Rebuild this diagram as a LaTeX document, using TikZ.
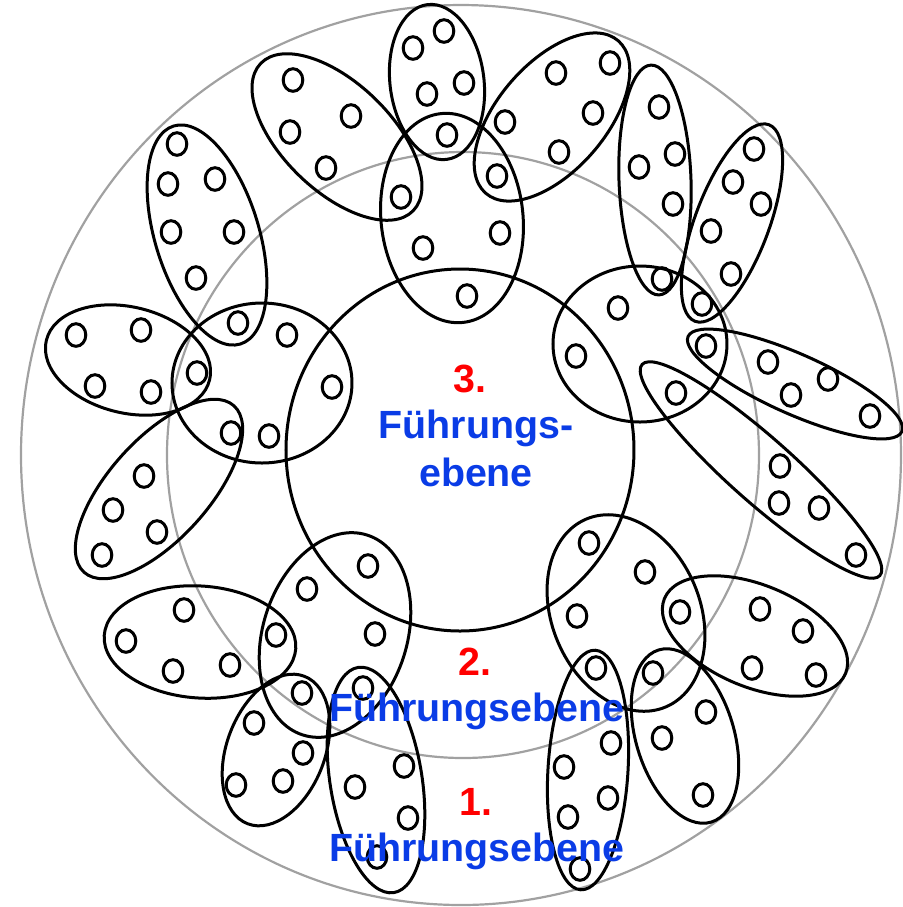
\documentclass[tikz,border=0pt]{standalone}
\usepackage{fontspec}
\setmainfont{Liberation Sans}

\definecolor{levelred}{RGB}{255,0,0}
\definecolor{levelblue}{RGB}{10,60,230}

\tikzset{
  ring/.style={draw=black!37, line width=0.22mm},
  team/.style={draw=black, line width=0.3mm},
  person/.style={draw=black, line width=0.3mm},
  levelnum/.style={text=levelred, font=\fontsize{11.2}{13}\selectfont\bfseries, anchor=base, inner sep=0pt},
  levelname/.style={text=levelblue, font=\fontsize{11.2}{13}\selectfont\bfseries, anchor=base, inner sep=0pt}
}

\begin{document}
\begin{tikzpicture}[x=0.1mm, y=-0.1mm]
        \useasboundingbox (0,0) rectangle (903,907);

        % the three levels
        \draw[ring] (461,455) ellipse (440 and 450); % level 1
        \draw[ring] (463,455) ellipse (296 and 303); % level 2
        \draw[team] (460,450) ellipse (174 and 181); % level 3

        % level 2 teams
        \draw[team, rotate around={6:(452,218)}] (452,218) ellipse (71 and 105);   % top
        \draw[team] (640,344) ellipse (87 and 78);                                 % right
        \draw[team] (262,383) ellipse (90 and 80);                                 % left
        \draw[team, rotate around={-18:(335,635)}] (335,635) ellipse (72 and 105); % bottom left
        \draw[team, rotate around={23:(626,613)}] (626,613) ellipse (74 and 102);  % bottom right

        % level 1 teams
        \draw[team, rotate around={7:(437,82)}] (437,82) ellipse (47 and 78);
        \draw[team, rotate around={-44:(337,137)}] (337,137) ellipse (106 and 54);
        \draw[team, rotate around={49:(552,117)}] (552,117) ellipse (101 and 54);
        \draw[team, rotate around={2:(655,180)}] (655,180) ellipse (36 and 115);
        \draw[team, rotate around={-20.6:(732,223)}] (732,223) ellipse (37 and 105);
        \draw[team, rotate around={-24:(795,384)}] (795,384) ellipse (117 and 30);
        \draw[team, rotate around={-41.6:(761,470)}] (761,470) ellipse (159 and 32);
        \draw[team, rotate around={-22.5:(755,636)}] (755,636) ellipse (98 and 51);
        \draw[team, rotate around={17:(685,736)}] (685,736) ellipse (49 and 90);
        \draw[team, rotate around={-3.5:(588,770)}] (588,770) ellipse (40 and 120);
        \draw[team, rotate around={-4:(200,642)}] (200,642) ellipse (96 and 56);
        \draw[team, rotate around={-21:(276,750)}] (276,750) ellipse (49 and 79);
        \draw[team, rotate around={9:(376,780)}] (376,780) ellipse (46 and 114);
        \draw[team, rotate around={48:(159,489)}] (159,489) ellipse (112 and 50);
        \draw[team, rotate around={-13.6:(128,360)}] (128,360) ellipse (84 and 53);
        \draw[team, rotate around={17:(207,235)}] (207,235) ellipse (52 and 114);

        % members, top group
        \foreach \p in {(447,135),(401,197),(497,176),(500,233),(423,248),(467,296),
                        (444,31),(413,48),(464,83),(427,94),
                        (293,80),(351,116),(290,132),(326,168),
                        (556,73),(610,63),(505,122),(593,113),(559,152)}
          \draw[person] \p ellipse (9.8 and 11.3);

        % members, right group
        \foreach \p in {(662,279),(618,308),(576,356),(702,304),(706,346),(676,393),
                        (659,107),(675,154),(639,167),(673,204),
                        (754,149),(733,182),(761,204),(711,231),(731,274),
                        (768,362),(828,379),(791,395),(870,416),
                        (780,466),(779,503),(819,508),(856,555)}
          \draw[person] \p ellipse (9.8 and 11.3);

        % members, left group
        \foreach \p in {(238,323),(287,335),(197,373),(332,387),(231,433),(269,436),
                        (76,335),(141,330),(95,386),(151,392),
                        (177,144),(168,184),(215,179),(171,232),(234,232),(196,278),
                        (144,476),(113,510),(157,532),(102,555)}
          \draw[person] \p ellipse (9.8 and 11.3);

        % members, bottom left group
        \foreach \p in {(368,566),(307,589),(375,634),(276,635),(363,688),(302,693),
                        (184,610),(126,641),(173,671),(230,665),
                        (254,723),(303,753),(283,781),(236,785),
                        (404,766),(355,787),(408,818),(377,857)}
          \draw[person] \p ellipse (9.8 and 11.3);

        % members, bottom right group
        \foreach \p in {(589,543),(645,572),(577,616),(680,612),(596,668),(653,673),
                        (760,609),(803,631),(752,668),(816,675),
                        (706,712),(662,738),(703,795),
                        (611,743),(564,767),(608,798),(568,817),(580,869)}
          \draw[person] \p ellipse (9.8 and 11.3);

        % labels
        \node[levelnum] (num3) at (470,392) {3.};
        \node[levelname] (name3a) at (476,438) {Führungs-};
        \node[levelname] (name3b) at (476,486) {ebene};
        \node[levelnum] (num2) at (475,675) {2.};
        \node[levelname] (name2) at (477,721) {Führungsebene};
        \node[levelnum] (num1) at (476,815) {1.};
        \node[levelname] (name1) at (477,861) {Führungsebene};

\end{tikzpicture}
\end{document}
